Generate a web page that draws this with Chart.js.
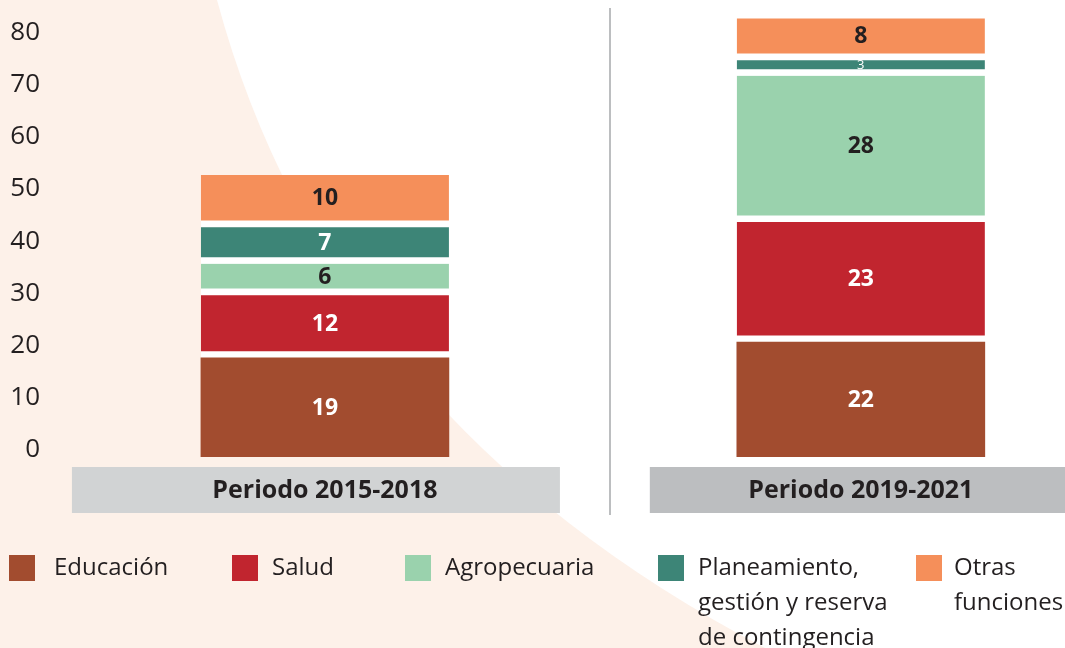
<!DOCTYPE html>
<html><head><meta charset="utf-8">
<script src="https://cdn.jsdelivr.net/npm/chart.js@4"></script>
<style>
html,body{margin:0;padding:0;width:1065px;height:648px;overflow:hidden;background:#fff;font-family:"Open Sans",sans-serif;}
#wrap{position:relative;width:1065px;height:648px;}
canvas{position:absolute;left:0;top:0;}
#legend{position:absolute;left:0;top:0;width:1065px;height:648px;pointer-events:none;}
.item{position:absolute;top:554px;}
.sw{position:absolute;left:0;top:1px;width:26px;height:26px;}
.lt{position:absolute;top:-6px;font-size:24px;line-height:35px;color:#231f20;white-space:nowrap;}
</style></head>
<body><div id="wrap"><canvas id="c" width="1065" height="648"></canvas><div id="legend"></div></div>
<script>
// ---- data ----
const categories = ['Periodo 2015-2018', 'Periodo 2019-2021'];
const seriesNames = ['Educación', 'Salud', 'Agropecuaria', 'Planeamiento,\ngestión y reserva\nde contingencia', 'Otras\nfunciones'];
const educacion = [19, 22];
const salud = [12, 23];
const agropecuaria = [6, 28];
const planeamiento = [7, 3];
const otras = [10, 8];
const yTicks = [0, 10, 20, 30, 40, 50, 60, 70, 80];

// ---- styles ----
const seriesColors = ['#a24c2f', '#c1252f', '#9ad2ad', '#3d8577', '#f58f5a'];
const labelColors = ['#ffffff', '#ffffff', '#231f20', '#ffffff', '#231f20'];
const boxColors = ['#d1d3d4', '#bcbec0'];
const boxSpan = [[-253, 235], [-211, 230]];
const legendSquareX = [9, 232, 405, 658, 916];
const legendTextX = [54, 272, 445, 698, 954];
const textColor = '#231f20';
const FONT = '"Open Sans", sans-serif';

const seriesValues = [educacion, salud, agropecuaria, planeamiento, otras];
const GAP = 7;

const datasets = seriesValues.map((vals, s) => ({
  label: seriesNames[s].replace(/\n/g, ' '),
  data: categories.map((c, i) => ({ x: i, y: vals[i] })),
  backgroundColor: seriesColors[s],
  borderColor: '#ffffff',
  borderSkipped: false,
  borderWidth: s === 0 ? 0 : { top: 0, left: 0, right: 0, bottom: GAP },
  barThickness: 248
}));

const bgPlugin = {
  id: 'bg',
  beforeDraw(chart) {
    const ctx = chart.ctx;
    ctx.save();
    ctx.fillStyle = '#ffffff';
    ctx.fillRect(0, 0, chart.width, chart.height);
    ctx.fillStyle = '#fdf1e9';
    ctx.beginPath();
    ctx.moveTo(0, 0);
    ctx.lineTo(217, 0);
    ctx.quadraticCurveTo(330, 420, 765, 648);
    ctx.lineTo(0, 648);
    ctx.closePath();
    ctx.fill();
    ctx.restore();
  }
};

const catPlugin = {
  id: 'cats',
  afterDraw(chart) {
    const ctx = chart.ctx;
    const xs = chart.scales.x;
    ctx.save();
    ctx.strokeStyle = '#bcbec0';
    ctx.lineWidth = 2;
    ctx.beginPath();
    const dx = Math.round(xs.getPixelForValue(0.532));
    ctx.moveTo(dx, 8);
    ctx.lineTo(dx, 515);
    ctx.stroke();
    categories.forEach((c, i) => {
      const cx = xs.getPixelForValue(i);
      ctx.fillStyle = boxColors[i];
      ctx.fillRect(cx + boxSpan[i][0], 467, boxSpan[i][1] - boxSpan[i][0], 46);
      ctx.fillStyle = textColor;
      ctx.font = 'bold 25px ' + FONT;
      ctx.textAlign = 'center';
      ctx.textBaseline = 'middle';
      ctx.fillText(c, cx, 491);
    });
    ctx.restore();
  }
};

const valuePlugin = {
  id: 'vals',
  afterDatasetsDraw(chart) {
    const ctx = chart.ctx;
    ctx.save();
    ctx.textAlign = 'center';
    ctx.textBaseline = 'middle';
    chart.data.datasets.forEach((ds, s) => {
      const meta = chart.getDatasetMeta(s);
      meta.data.forEach((el, i) => {
        const v = seriesValues[s][i];
        const bottom = el.base - (s === 0 ? 0 : GAP);
        const cy = (el.y + bottom) / 2;
        ctx.fillStyle = labelColors[s];
        ctx.font = v < 5 ? '13px ' + FONT : 'bold 23px ' + FONT;
        ctx.fillText(String(v), el.x, cy + 1);
      });
    });
    ctx.restore();
  }
};

new Chart(document.getElementById('c'), {
  type: 'bar',
  data: { datasets },
  options: {
    responsive: false,
    animation: false,
    layout: { padding: { top: 8, bottom: 191, left: 0, right: 0 } },
    plugins: { legend: { display: false }, tooltip: { enabled: false } },
    scales: {
      x: {
        type: 'linear', stacked: true, display: false, offset: false,
        min: -0.513, max: 1.381
      },
      y: {
        stacked: true, min: 0, max: 86,
        afterFit(s) { s.width = 50; s.paddingTop = 0; s.paddingBottom = 0; },
        afterBuildTicks(s) { s.ticks = yTicks.map(v => ({ value: v })); },
        grid: { display: false, drawTicks: false },
        border: { display: false },
        ticks: {
          padding: 10, labelOffset: -7, color: textColor,
          font: { family: FONT, size: 26 }
        }
      }
    }
  },
  plugins: [bgPlugin, catPlugin, valuePlugin]
});

// ---- HTML legend ----
const leg = document.getElementById('legend');
seriesNames.forEach((name, s) => {
  const sq = document.createElement('div');
  sq.className = 'item';
  sq.style.left = legendSquareX[s] + 'px';
  sq.innerHTML = '<div class="sw" style="background:' + seriesColors[s] + '"></div>';
  leg.appendChild(sq);
  const t = document.createElement('div');
  t.className = 'item';
  t.style.left = legendTextX[s] + 'px';
  const lt = document.createElement('div');
  lt.className = 'lt';
  lt.style.left = '0px';
  lt.innerHTML = name.split('\n').join('<br>');
  t.appendChild(lt);
  leg.appendChild(t);
});
</script>
</body></html>
